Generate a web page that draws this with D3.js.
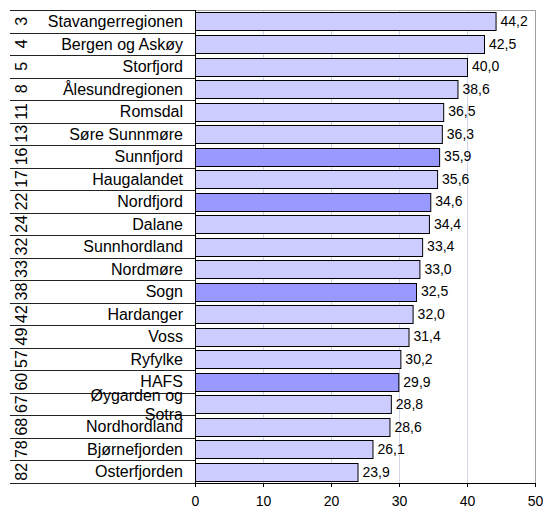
<!DOCTYPE html>
<html><head><meta charset="utf-8">
<script src="https://cdn.jsdelivr.net/npm/d3@7"></script>
<style>body{margin:0;background:#fff;} text{font-family:Arial,"Liberation Sans",sans-serif;}</style>
</head><body>
<svg id="c" width="543" height="511"></svg>
<script>
const ranks = ["3","4","5","8","11","13","16","17","22","24","32","33","38","42","49","57","60","67","68","78","82"];
const regions = ["Stavangerregionen","Bergen og Askøy","Storfjord","Ålesundregionen","Romsdal","Søre Sunnmøre","Sunnfjord","Haugalandet","Nordfjord","Dalane","Sunnhordland","Nordmøre","Sogn","Hardanger","Voss","Ryfylke","HAFS","Øygarden og Sotra","Nordhordland","Bjørnefjorden","Osterfjorden"];
const values = [44.2,42.5,40.0,38.6,36.5,36.3,35.9,35.6,34.6,34.4,33.4,33.0,32.5,32.0,31.4,30.2,29.9,28.8,28.6,26.1,23.9];
const highlighted = ["Sunnfjord","Nordfjord","Sogn","HAFS"];
const xTicks = [0,10,20,30,40,50];

(function(){
const svg = d3.select("#c");
const pLeft = 195, pRight = 535, pTop = 10, pBottom = 483, tableLeft = 10;
const x = d3.scaleLinear().domain([0,50]).range([pLeft,pRight]);
const y = d3.scaleBand().domain(regions).range([pTop,pBottom]).paddingInner(0.22).paddingOuter(0.11);
const band = (pBottom-pTop)/regions.length;
const rowTop = i => pTop + i*band;

// gridlines
svg.append("g").selectAll("line").data(xTicks.slice(1,-1)).join("line")
  .attr("x1",d=>x(d)+0.5).attr("x2",d=>x(d)+0.5).attr("y1",pTop).attr("y2",pBottom)
  .attr("stroke","#d4d4ec").attr("stroke-width",1);
// plot border top/right
svg.append("line").attr("x1",pLeft).attr("x2",pRight).attr("y1",pTop+0.5).attr("y2",pTop+0.5).attr("stroke","#a0a0a0");
svg.append("line").attr("x1",pRight+0.5).attr("x2",pRight+0.5).attr("y1",pTop).attr("y2",pBottom).attr("stroke","#a0a0a0");

// bars
svg.append("g").selectAll("rect").data(regions).join("rect")
  .attr("x",x(0)+0.5).attr("y",d=>Math.round(y(d))+0.5)
  .attr("width",(d,i)=>x(values[i])-x(0)).attr("height",Math.round(y.bandwidth()))
  .attr("fill",d=>highlighted.includes(d)?"#9999ff":"#ccccff")
  .attr("stroke","#000").attr("stroke-width",1);

// value labels
svg.append("g").selectAll("text").data(regions).join("text")
  .attr("x",(d,i)=>x(values[i])+5).attr("y",d=>y(d)+y.bandwidth()/2)
  .attr("dy","0.35em").attr("font-size",14).attr("fill","#000")
  .text((d,i)=>values[i].toFixed(1).replace(".",","));

// table row lines
const lines = d3.range(regions.length+1);
svg.append("g").selectAll("line").data(lines).join("line")
  .attr("x1",tableLeft).attr("x2",pLeft).attr("y1",i=>Math.round(rowTop(i))+0.5).attr("y2",i=>Math.round(rowTop(i))+0.5)
  .attr("stroke","#222").attr("stroke-width",1);

// rank labels rotated
svg.append("g").selectAll("text").data(ranks).join("text")
  .attr("transform",(d,i)=>`translate(${tableLeft+17},${rowTop(i)+band/2}) rotate(-90)`)
  .attr("text-anchor","middle").attr("font-size",16).attr("fill","#000")
  .text(d=>d);

// region labels
const lab = svg.append("g").selectAll("text").data(regions).join("text")
  .attr("x",183).attr("y",(d,i)=>rowTop(i)+band/2)
  .attr("text-anchor","end").attr("font-size",16).attr("fill","#000");
lab.each(function(d){
  const t = d3.select(this);
  if (d === "Øygarden og Sotra") {
    t.append("tspan").attr("x",183).attr("dy","-0.22em").text("Øygarden og");
    t.append("tspan").attr("x",183).attr("dy","1.2em").text("Sotra");
  } else {
    t.attr("dy","0.36em").text(d);
  }
});

// axes
const xAxis = d3.axisBottom(x).tickValues(xTicks).tickSize(4).tickFormat(d3.format("d"));
const gx = svg.append("g").attr("transform",`translate(0,${pBottom})`).call(xAxis);
gx.select(".domain").attr("stroke","#000");
gx.selectAll(".tick line").attr("stroke","#000");
gx.selectAll(".tick text").attr("font-size",14).attr("font-family","Arial, 'Liberation Sans', sans-serif").attr("dy","0").attr("y",23).attr("fill","#000");

svg.append("line").attr("x1",pLeft+0.5).attr("x2",pLeft+0.5).attr("y1",pTop).attr("y2",pBottom+4).attr("stroke","#000");
})();
</script>
</body></html>
